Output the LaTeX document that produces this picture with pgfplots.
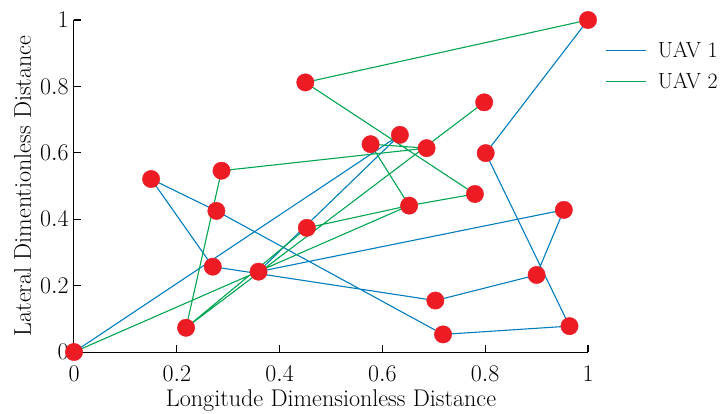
\RequirePackage{fix-cm}
\documentclass[border=0pt]{standalone}
\usepackage{pgfplots}
\pgfplotsset{compat=1.18}
\definecolor{uavblue}{RGB}{0,125,190}
\definecolor{uavgreen}{RGB}{0,166,81}
\definecolor{nodered}{RGB}{237,28,36}
\newcommand{\labfont}{\fontsize{24.2}{28}\selectfont}
\newcommand{\tickfont}{\fontsize{24}{28}\selectfont}
\newcommand{\legfont}{\fontsize{22}{26}\selectfont}
\newcommand{\legline}[1]{%
  \pgfsetstrokecolor{#1}\pgfsetlinewidth{1.2bp}%
  \pgfpathmoveto{\pgfpoint{0bp}{0bp}}\pgfpathlineto{\pgfpoint{40bp}{0bp}}\pgfusepath{stroke}%
  \pgfpathmoveto{\pgfpoint{0bp}{0bp}}\pgfpathlineto{\pgfpoint{50bp}{0bp}}\pgfusepath{}}
\begin{document}
\begin{tikzpicture}
\useasboundingbox (-74bp,-62bp) rectangle (651bp,352bp);
\begin{axis}[
  scale only axis, width=514bp, height=332bp,
  xmin=0, xmax=1, ymin=0, ymax=1,
  axis lines=left,
  axis line style={-, line width=1bp, black},
  tick align=inside,
  major tick style={black, line width=1.1bp},
  major tick length=7.5bp,
  xtick={0,0.2,0.4,0.6,0.8,1}, ytick={0,0.2,0.4,0.6,0.8,1},
  tick label style={font=\tickfont},
  xticklabel style={anchor=base, yshift=-29bp},
  yticklabel style={anchor=east, xshift=-2bp},
  every axis x label/.style={at={(axis description cs:0.5,0)}, anchor=base, yshift=-54bp, font=\labfont},
  every axis y label/.style={at={(axis description cs:0,0.5)}, xshift=-51.5bp, rotate=90, anchor=center, font=\labfont},
  clip=false,
  unbounded coords=jump,
  xlabel={Longitude Dimensionless Distance},
  ylabel={Lateral Dimentionless Distance},
  legend style={draw=none, fill=none, font=\legfont, at={(axis description cs:1,1)}, anchor=north west,
    xshift=14bp, yshift=-18bp, row sep=9.5bp},
  legend cell align=left,
]
\addlegendimage{legend image code/.code={\legline{uavblue}}}
\addlegendentry{UAV 1}
\addlegendimage{legend image code/.code={\legline{uavgreen}}}
\addlegendentry{UAV 2}
% UAV 1 route
\addplot[color=uavblue, line width=1.1bp, no marks, forget plot] coordinates {
  (0,0) (0.634,0.654) (0.359,0.242) (0.953,0.428) (0.900,0.232) (0.703,0.155)
  (0.270,0.257) (0.150,0.521) (0.277,0.425) (0.718,0.053) (0.964,0.078)
  (0.801,0.599) (1,1)
};
% UAV 2 route
\addplot[color=uavgreen, line width=1.1bp, no marks, forget plot] coordinates {
  (1,1) (0.450,0.812) (0.780,0.476) (0.652,0.441) (0.453,0.374) (0.218,0.073)
  (0.287,0.546) (0.686,0.614) (0.577,0.626) (0.652,0.441) (0,0)
  (nan,nan)
  (0.218,0.073) (0.798,0.752)
};
% waypoints
\addplot[only marks, mark=*, mark size=8.7bp, color=nodered, forget plot] coordinates {
  (0,0) (0.150,0.521) (0.218,0.073) (0.270,0.257) (0.277,0.425) (0.287,0.546)
  (0.359,0.242) (0.450,0.812) (0.453,0.374) (0.577,0.626) (0.634,0.654)
  (0.686,0.614) (0.652,0.441) (0.703,0.155) (0.718,0.053) (0.780,0.476)
  (0.798,0.752) (0.801,0.599) (0.900,0.232) (0.953,0.428) (0.964,0.078) (1,1)
};
\end{axis}
\end{tikzpicture}
\end{document}
